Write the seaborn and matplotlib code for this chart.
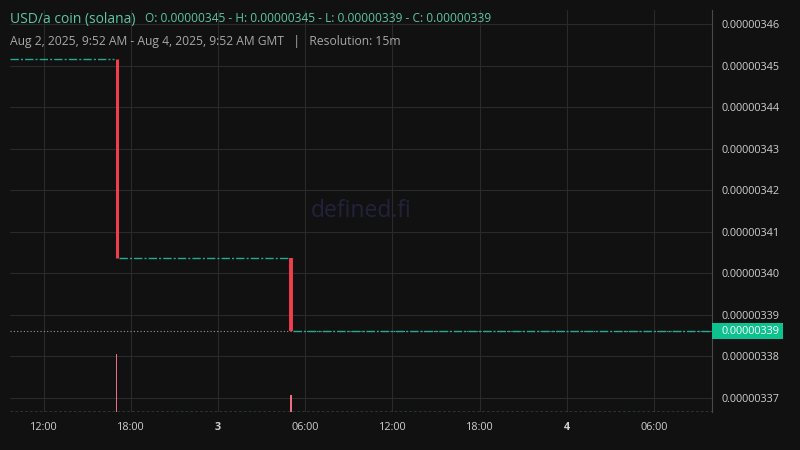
import matplotlib
matplotlib.use("Agg")
from matplotlib import pyplot as plt
from matplotlib.patches import Rectangle
import seaborn as sns
import numpy as np
import pandas as pd

# %%
# data
view_start = "2025-08-02 09:40"
view_end = "2025-08-04 10:00"

candle_times = ["2025-08-02 17:00", "2025-08-03 05:00"]
candle_open = [3.4517e-6, 3.4036e-6]
candle_close = [3.4036e-6, 3.3861e-6]
candle_volume = [3.5, 1.0]

flat_levels = [3.4517e-6, 3.4036e-6, 3.3861e-6]
flat_start = ["2025-08-02 09:40", "2025-08-02 17:10", "2025-08-03 05:10"]
flat_end = ["2025-08-02 16:50", "2025-08-03 04:50", "2025-08-04 10:00"]

last_price = 3.3861e-6
last_label = "0.00000339"

x_ticks = ["2025-08-02 12:00", "2025-08-02 18:00", "2025-08-03 00:00", "2025-08-03 06:00",
           "2025-08-03 12:00", "2025-08-03 18:00", "2025-08-04 00:00", "2025-08-04 06:00"]
x_labels = ["12:00", "18:00", "3", "06:00", "12:00", "18:00", "4", "06:00"]
y_ticks = [3.37e-6, 3.38e-6, 3.39e-6, 3.40e-6, 3.41e-6, 3.42e-6, 3.43e-6, 3.44e-6, 3.45e-6, 3.46e-6]

title = "USD/a coin (solana)"
ohlc_text = "O: 0.00000345 - H: 0.00000345 - L: 0.00000339 - C: 0.00000339"
subtitle = "Aug 2, 2025, 9:52 AM - Aug 4, 2025, 9:52 AM GMT   |   Resolution: 15m"

# %%
bg = "#111111"
grid_c = "#2a2a2a"
teal = "#22ab94"
red = "#f23d4c"
vol_red = "#ee6f80"

sns.set_theme(style="dark", rc={"axes.facecolor": bg, "figure.facecolor": bg})
plt.rcParams["font.family"] = ["Open Sans", "DejaVu Sans"]

fig = plt.figure(figsize=(8, 4.5), dpi=100)
ax = fig.add_axes([10 / 800, 38 / 450, 702 / 800, 402 / 450])
ax.set_facecolor(bg)

# flat 15m candles, drawn as one path per price level
segs = pd.DataFrame({
    "time": pd.to_datetime(flat_start + flat_end),
    "price": flat_levels + flat_levels,
    "seg": list(range(len(flat_levels))) * 2,
})
sns.lineplot(data=segs, x="time", y="price", units="seg", estimator=None, ax=ax,
             color=teal, linewidth=1.0, linestyle=(0, (6, 1.5, 1.5, 1.5)), legend=False)

# last price line
ax.axhline(last_price, color="#9a9a9a", linewidth=0.8, linestyle=(0, (1, 2)), zorder=1)

# big candles
ct = pd.to_datetime(candle_times)
ax.vlines(ct, candle_close, candle_open, color=red, linewidth=[2.2, 2.8], zorder=3)

ax.set_xlim(pd.Timestamp(view_start), pd.Timestamp(view_end))
ax.set_ylim(3.3666e-6, 3.4634e-6)

# volume on an overlay axis
axv = ax.twinx()
axv.bar(ct, candle_volume, width=0.005, color=vol_red, edgecolor="none", linewidth=0, zorder=2)
axv.axhline(0.02, color="#7cc9b4", linewidth=1.0, linestyle=(0, (2, 1.5)), zorder=1)
axv.set_ylim(0, max(candle_volume) * 402 / 58)
axv.set_yticks([])
axv.grid(False)
for s in axv.spines.values():
    s.set_visible(False)

# axes styling
ax.set_xlabel("")
ax.set_ylabel("")
ax.set_xticks(pd.to_datetime(x_ticks))
ax.set_xticklabels(x_labels)
for lbl, txt in zip(ax.get_xticklabels(), x_labels):
    if ":" not in txt:
        lbl.set_fontweight("bold")
ax.yaxis.tick_right()
ax.set_yticks(y_ticks)
ax.set_yticklabels([f"{v:.8f}" for v in y_ticks])
ax.tick_params(axis="y", length=0, pad=7, labelsize=7.8, colors="#cfcfcf")
ax.tick_params(axis="x", length=0, pad=7, labelsize=7.8, colors="#cfcfcf")
ax.grid(True, color=grid_c, linewidth=0.8)
for side in ["left", "top", "bottom"]:
    ax.spines[side].set_visible(False)
ax.spines["right"].set_color("#4a4a4a")
ax.spines["right"].set_linewidth(0.8)

# last price tag
tr = ax.get_yaxis_transform()
ax.add_patch(Rectangle((1.0, last_price - 0.193e-8), 71 / 702, 0.386e-8, transform=tr,
                       facecolor="#0dc28f", edgecolor="none", clip_on=False, zorder=5))
ax.text(1.0 + 10 / 702, last_price, last_label, transform=tr, ha="left", va="center",
        fontsize=7.8, color="white", zorder=6, clip_on=False)

# watermark
ax.text(0.5, 0.5, "defined.fi", transform=ax.transAxes, ha="center", va="center",
        fontsize=16.5, color="#22223c", zorder=0)

# header
fig.text(10 / 800, 1 - 19 / 450, title, fontsize=10, color="#5cc6a6", va="center")
fig.text(145 / 800, 1 - 19 / 450, ohlc_text, fontsize=8.6, color="#5cc6a6", va="center")
fig.text(10 / 800, 1 - 41 / 450, subtitle, fontsize=8.7, color="#a8a8a8", va="center")

fig.savefig("out.png", dpi=100, facecolor=bg)
